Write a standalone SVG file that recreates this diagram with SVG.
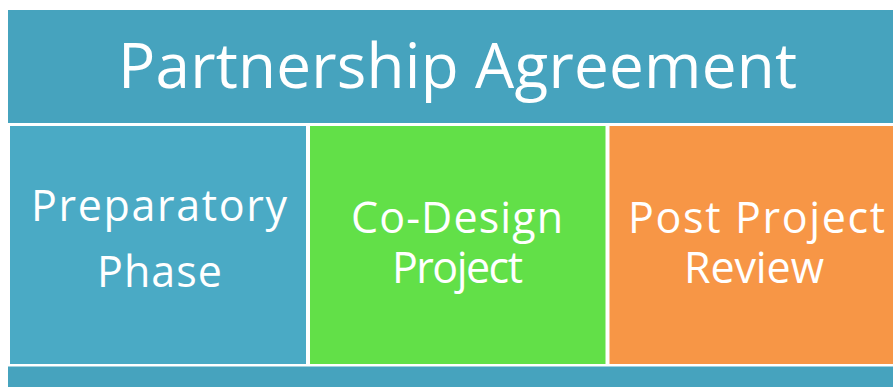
<svg xmlns="http://www.w3.org/2000/svg" width="893" height="387" viewBox="0 0 893 387">
<style>
.t{font-family:"Open Sans","Liberation Sans",sans-serif;fill:#ffffff;text-anchor:middle}
.b{font-size:43px}
</style>
<rect width="893" height="387" fill="#ffffff"/>
<g id="banner">
<rect x="8" y="10" width="900" height="113" fill="#46a3be"/>
<text class="t" x="457.5" y="88" font-size="62" textLength="679" lengthAdjust="spacing">Partnership Agreement</text>
</g>
<g id="preparatory">
<rect x="10" y="126" width="296" height="238" fill="#4aaac5"/>
<text class="t b" x="159" y="221" textLength="256" lengthAdjust="spacing">Preparatory</text>
<text class="t b" x="159.5" y="287" textLength="125" lengthAdjust="spacing">Phase</text>
</g>
<g id="codesign">
<rect x="310" y="126" width="295.5" height="238" fill="#62e048"/>
<text class="t b" x="457" y="233" textLength="212" lengthAdjust="spacing">Co-Design</text>
<text class="t b" x="457.5" y="283" textLength="131" lengthAdjust="spacing">Project</text>
</g>
<g id="review">
<rect x="609.5" y="126" width="300" height="238" fill="#f79646"/>
<text class="t b" x="756.5" y="233" textLength="257" lengthAdjust="spacing">Post Project</text>
<text class="t b" x="754" y="283" textLength="140" lengthAdjust="spacing">Review</text>
</g>
<g id="bottom">
<rect x="8" y="366.5" width="900" height="30" fill="#46a3be"/>
</g>
<g id="connectors"></g>
</svg>
